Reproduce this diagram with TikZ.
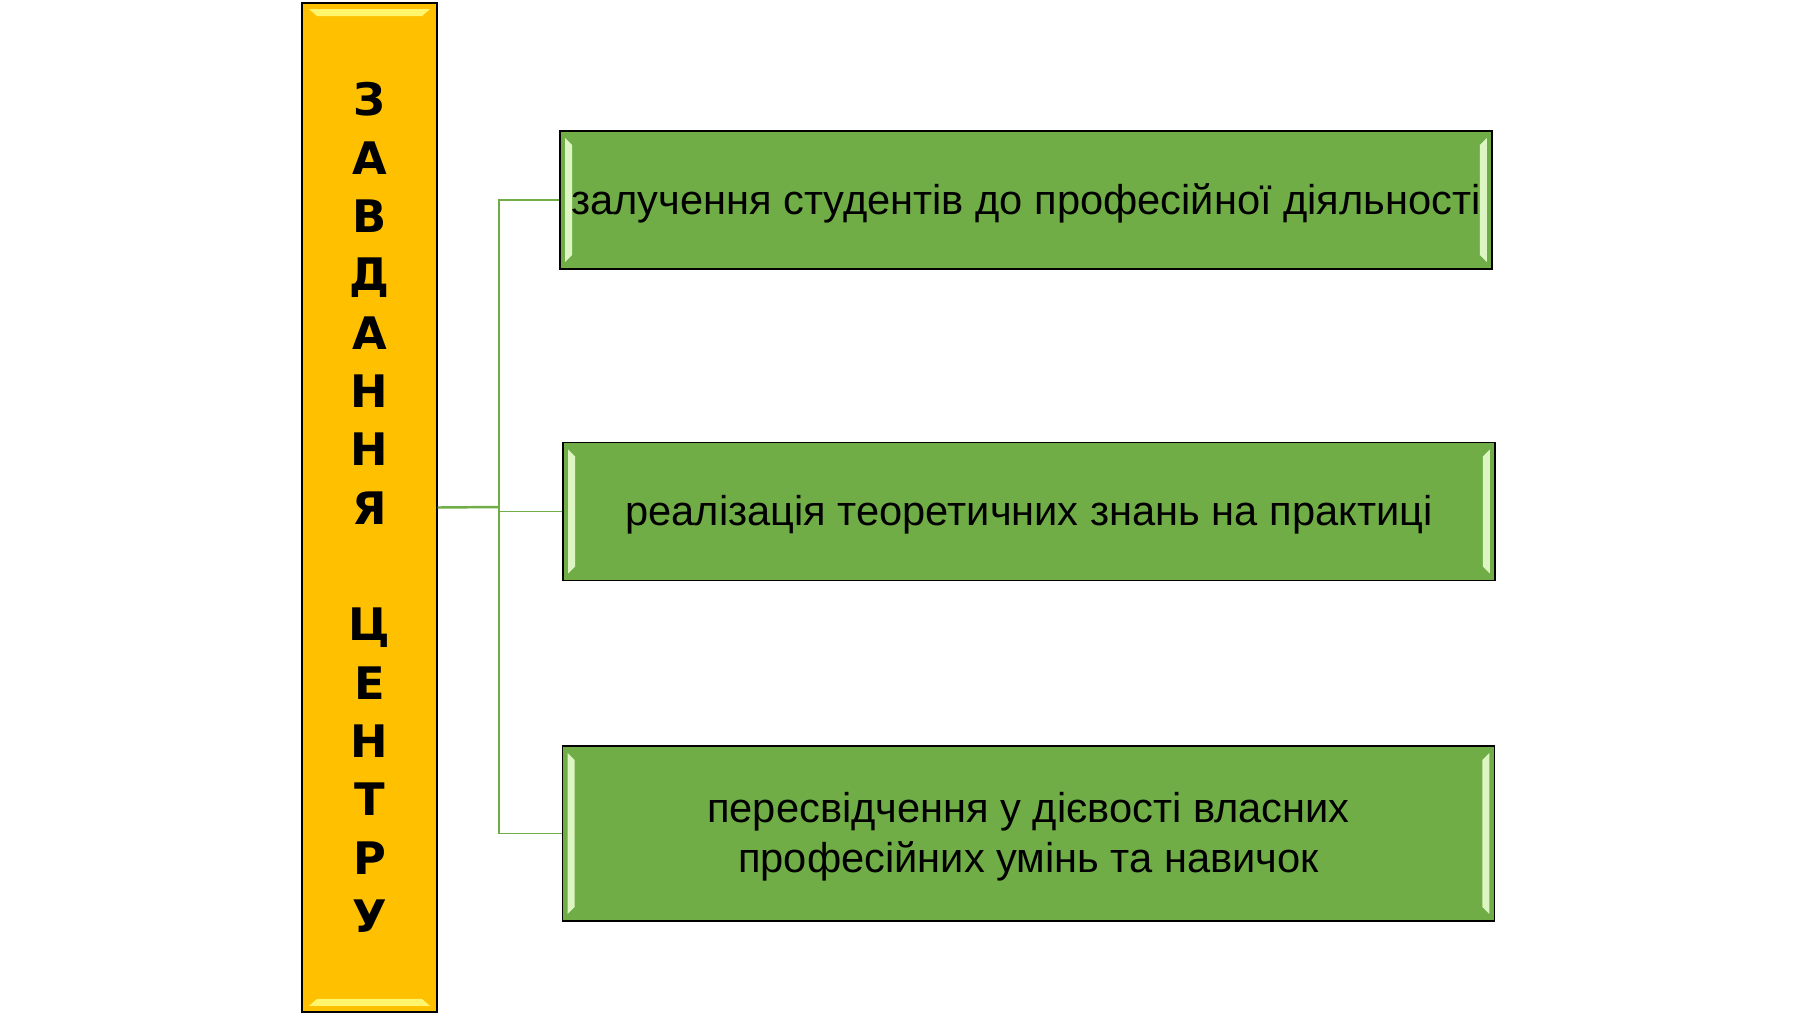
\documentclass[tikz,border=0pt]{standalone}
\usepackage{fontspec}
\setmainfont{Liberation Sans}
\newfontfamily\stackfont{DejaVu Sans}
\usetikzlibrary{positioning, calc}
\definecolor{taskorange}{RGB}{255,192,0}
\definecolor{taskshine}{RGB}{255,246,110}
\definecolor{goalgreen}{RGB}{112,173,71}
\definecolor{goalshine}{RGB}{220,245,195}
\definecolor{linkgreen}{RGB}{112,173,71}

\begin{document}
\begin{tikzpicture}[
    x=0.02cm, y=-0.02cm,
    tasks/.style={rectangle, draw=black, line width=0.8pt, fill=taskorange, align=center,
        minimum width=2.7cm, minimum height=20.18cm, inner sep=0pt,
        font=\stackfont\bfseries\fontsize{25.5}{33.2}\selectfont,
        path picture={
            \fill[taskshine] ($(path picture bounding box.north west)+(7,6)$) -- ($(path picture bounding box.north east)+(-7,6)$)
                -- ($(path picture bounding box.north east)+(-15,13)$) -- ($(path picture bounding box.north west)+(15,13)$) -- cycle;
            \fill[taskshine] ($(path picture bounding box.south west)+(7,-6)$) -- ($(path picture bounding box.south east)+(-7,-6)$)
                -- ($(path picture bounding box.south east)+(-15,-13)$) -- ($(path picture bounding box.south west)+(15,-13)$) -- cycle;
        }},
    goal/.style={rectangle, draw=black, line width=0.8pt, fill=goalgreen, align=center,
        minimum width=18.64cm, minimum height=2.76cm, inner sep=0pt,
        font=\fontsize{23.7}{28.5}\selectfont,
        path picture={
            \fill[goalshine] ($(path picture bounding box.north west)+(5,7)$) -- ($(path picture bounding box.north west)+(12,14)$)
                -- ($(path picture bounding box.south west)+(12,-14)$) -- ($(path picture bounding box.south west)+(5,-7)$) -- cycle;
            \fill[goalshine] ($(path picture bounding box.north east)+(-5,7)$) -- ($(path picture bounding box.north east)+(-12,14)$)
                -- ($(path picture bounding box.south east)+(-12,-14)$) -- ($(path picture bounding box.south east)+(-5,-7)$) -- cycle;
        }},
    link/.style={draw=linkgreen, line width=1pt}
]
\useasboundingbox (0,0) rectangle (1793,1015);

\node[tasks] (tasks) at (369.5,507.5) {З\\А\\В\\Д\\А\\Н\\Н\\Я\\[33.2pt]Ц\\Е\\Н\\Т\\Р\\У};
\node[goal] (involve) at (1026,200) {\raisebox{-2pt}[\height][\depth]{залучення студентів до професійної діяльності}};
\node[goal] (practice) at (1029,511.5) {\raisebox{-2pt}[\height][\depth]{реалізація теоретичних знань на практиці}};
\node[goal, minimum height=3.5cm] (confidence) at (1028.5,833.5) {\raisebox{-2pt}[\height][\depth]{\begin{tabular}{@{}c@{}}пересвідчення у дієвості власних\\професійних умінь та навичок\end{tabular}}};

\coordinate (fork) at (499,507);
\draw[link, line width=1.4pt] (tasks.east) -- (fork);
\draw[link] (fork) |- (involve.west);
\draw[link] (fork) |- (practice.west);
\draw[link] (fork) |- (confidence.west);
\end{tikzpicture}
\end{document}
